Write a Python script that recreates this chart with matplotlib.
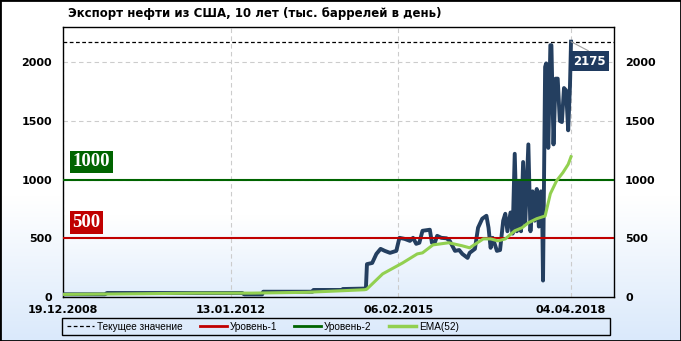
import matplotlib.pyplot as plt
import numpy as np
import pandas as pd
from matplotlib.colors import LinearSegmentedColormap
from matplotlib.patches import Rectangle
from matplotlib.lines import Line2D

# weekly US crude exports, thousand barrels per day
dates = ["2008-12-19", "2009-09-25", "2009-10-09", "2012-03-30", "2012-04-13", "2012-08-10",
         "2012-08-17", "2013-07-12", "2013-07-19", "2014-01-24", "2014-01-31", "2014-07-04",
         "2014-07-11", "2014-08-15", "2014-09-12", "2014-10-10", "2014-11-07", "2014-12-12",
         "2015-01-23", "2015-02-13", "2015-03-20", "2015-04-24", "2015-05-15", "2015-06-05",
         "2015-06-26", "2015-07-17", "2015-09-04", "2015-09-18", "2015-10-09", "2015-10-23",
         "2015-11-20", "2015-12-25", "2016-01-15", "2016-02-19", "2016-03-18", "2016-04-08",
         "2016-05-13", "2016-05-27", "2016-07-01", "2016-07-22", "2016-08-19", "2016-09-16",
         "2016-09-30", "2016-10-14", "2016-10-28", "2016-11-25", "2016-12-16", "2017-01-06",
         "2017-01-20", "2017-02-03", "2017-02-24", "2017-03-10", "2017-03-24", "2017-04-07",
         "2017-04-21", "2017-05-05", "2017-05-19", "2017-06-02", "2017-06-23", "2017-07-07",
         "2017-07-21", "2017-08-04", "2017-08-18", "2017-09-01", "2017-09-15", "2017-09-22",
         "2017-09-29", "2017-10-13", "2017-10-20", "2017-11-03", "2017-11-17", "2017-11-24",
         "2017-12-08", "2017-12-22", "2018-01-05", "2018-01-19", "2018-02-02", "2018-02-16",
         "2018-03-02", "2018-03-16", "2018-03-28", "2018-04-04"]
values = [23, 23, 34, 34, 22, 22,
          45, 45, 60, 60, 68, 72,
          280, 290, 367, 410, 393, 376,
          393, 504, 495, 478, 504, 453,
          462, 564, 573, 462, 470, 521,
          504, 500, 478, 393, 400, 367,
          333, 376, 410, 590, 667, 692,
          590, 419, 504, 393, 400, 650,
          709, 560, 720, 540, 1220, 560,
          990, 560, 1150, 620, 1300, 560,
          900, 650, 920, 600, 900, 850,
          140, 1960, 1990, 1270, 2145, 2145,
          1300, 1860, 1860, 1500, 1490, 1780,
          1760, 1420, 1800, 2175]

ema_dates = ["2008-12-19", "2010-06-04", "2011-06-03", "2012-06-01", "2013-05-31", "2014-01-03",
             "2014-06-27", "2014-07-11", "2014-10-24", "2015-03-06", "2015-06-12", "2015-07-17",
             "2015-09-25", "2016-01-08", "2016-04-08", "2016-05-27", "2016-08-26", "2016-10-14",
             "2016-12-02", "2017-01-20", "2017-03-24", "2017-05-12", "2017-06-23", "2017-08-18",
             "2017-10-13", "2017-11-17", "2017-12-29", "2018-02-09", "2018-03-16", "2018-04-04"]
ema_values = [22, 28, 33, 33, 40, 52,
              62, 68, 197, 290, 367, 376,
              444, 462, 436, 419, 495, 495,
              478, 495, 564, 590, 632, 667,
              690, 880, 991, 1060, 1130, 1195]

current = 2175
level1 = 500
level2 = 1000
yticks = [0, 500, 1000, 1500, 2000]
tick_dates = ["2008-12-19", "2012-01-13", "2015-02-06", "2018-04-04"]
tick_labels = ["19.12.2008", "13.01.2012", "06.02.2015", "04.04.2018"]
title = "Экспорт нефти из США, 10 лет (тыс. баррелей в день)"

plt.rcParams['font.family'] = ['DejaVu Sans']
plt.rcParams['font.weight'] = 'bold'

W, H = 681, 341
fig = plt.figure(figsize=(W / 100, H / 100), dpi=100)

# background gradients
grad = np.linspace(0, 1, 256).reshape(-1, 1)
bg = fig.add_axes([0, 0, 1, 1], zorder=-10)
bg.imshow(grad, aspect='auto', origin='lower', extent=[0, 1, 0, 1],
          cmap=LinearSegmentedColormap.from_list('f', [(0, '#dae9fb'), (0.42, '#ffffff'), (1, '#ffffff')]))
bg.axis('off')

pos = [63 / W, 1 - 297 / H, 551 / W, 270 / H]
gax = fig.add_axes(pos, zorder=-5)
gax.imshow(grad, aspect='auto', origin='lower', extent=[0, 1, 0, 1],
           cmap=LinearSegmentedColormap.from_list('p', [(0, '#e2eefc'), (0.3, '#ffffff'), (1, '#ffffff')]))
gax.axis('off')

ax = fig.add_axes(pos)
ax.set_facecolor('none')

x = pd.to_datetime(dates)
xe = pd.to_datetime(ema_dates)
ax.plot(x, values, color='#243f60', lw=2.8, solid_joinstyle='round', zorder=4)
ax.axhline(level1, color='#c00000', lw=1.5, zorder=5)
ax.axhline(level2, color='#006400', lw=1.5, zorder=5)
ax.plot(xe, ema_values, color='#92d050', lw=2.2, zorder=6)
ax.axhline(current, color='black', lw=0.9, ls=(0, (3, 2)), zorder=3)

ax.set_xlim(pd.Timestamp("2008-12-19"), pd.Timestamp("2019-01-16"))
ax.set_ylim(0, 2300)
ax.set_yticks(yticks)
ax.set_xticks(pd.to_datetime(tick_dates))
ax.set_xticklabels(tick_labels)
ax.grid(True, color='#cccccc', ls=(0, (4, 3)), lw=0.8, zorder=1)
ax.set_axisbelow(True)
ax.tick_params(axis='y', length=0, labelright=True, pad=8, labelsize=8)
ax.tick_params(axis='x', length=0, pad=6, labelsize=8)
for s in ax.spines.values():
    s.set_color('black')
    s.set_linewidth(1)

# level labels
tr = ax.get_yaxis_transform()
ax.text(0.018, 1150, "1000", transform=tr, color='white', fontsize=13.5,
        family='Liberation Serif', fontweight='bold', va='center', ha='left', zorder=8,
        bbox=dict(boxstyle='square,pad=0.15', fc='#006400', ec='none'))
ax.text(0.017, 632, "500", transform=tr, color='white', fontsize=13.5,
        family='Liberation Serif', fontweight='bold', va='center', ha='left', zorder=8,
        bbox=dict(boxstyle='square,pad=0.15', fc='#c00000', ec='none'))

# current value label
ax.annotate(str(current), xy=(x[-1], current), xytext=(13, -14), textcoords='offset points',
            ha='center', va='center', color='white', fontsize=8.5, fontweight='bold', zorder=9,
            bbox=dict(boxstyle='square,pad=0.32', fc='#1f3a5f', ec='none'),
            arrowprops=dict(arrowstyle='-', color='#a0a0a0', lw=0.8, shrinkA=0, shrinkB=0, relpos=(0.7, 1)))

fig.text(68 / W, 1 - 14 / H, title, fontsize=8.5, fontweight='bold', va='center', ha='left')

# legend
handles = [Line2D([], [], color='black', lw=0.9, ls=(0, (3, 2))),
           Line2D([], [], color='#c00000', lw=2),
           Line2D([], [], color='#006400', lw=2),
           Line2D([], [], color='#92d050', lw=2.5)]
labels = ["Текущее значение", "Уровень-1", "Уровень-2", "EMA(52)"]
fig.add_artist(Rectangle((62 / W, 1 - 335 / H), 548 / W, 17 / H, transform=fig.transFigure,
                         fill=False, ec='black', lw=1))
fig.legend(handles, labels, loc='center left', bbox_to_anchor=(67 / W, 1 - 326.5 / H), ncol=4,
           frameon=False, prop={'size': 7.2, 'weight': 'normal', 'family': 'Liberation Sans'},
           handlelength=2.7, handletextpad=0.3, columnspacing=1.7, borderaxespad=0, borderpad=0)

fig.add_artist(Rectangle((0, 0), 1, 1, transform=fig.transFigure, fill=False, ec='black', lw=2))

fig.savefig("out.png", dpi=100)
